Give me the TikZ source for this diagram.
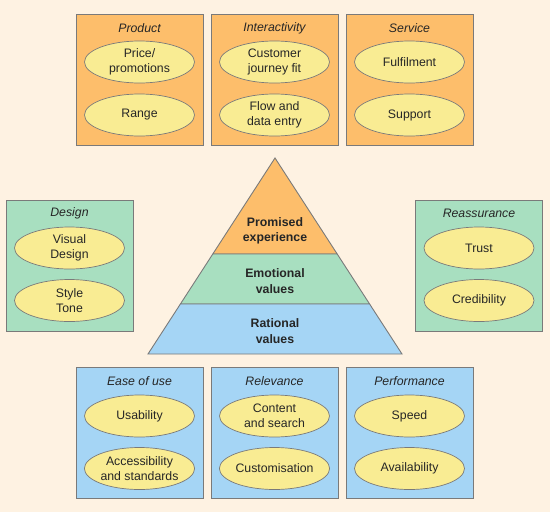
\documentclass[tikz,border=0pt]{standalone}
\usepackage{fontspec}
\setmainfont{Liberation Sans}
\usetikzlibrary{shapes.geometric}

% 颜色
\definecolor{bgcream}{HTML}{FEF2E2}
\definecolor{boxorange}{HTML}{FDBE6B}
\definecolor{boxgreen}{HTML}{A8DFC0}
\definecolor{boxblue}{HTML}{A5D5F5}
\definecolor{ovalyellow}{HTML}{F9EC93}
\definecolor{edgegrey}{HTML}{7A7A7A}

\tikzset{
  groupbox/.style={draw=edgegrey, line width=0.9pt, minimum width=127pt, minimum height=131pt, inner sep=0pt},
  grouptitle/.style={font=\fontsize{12.3}{15.5}\selectfont\itshape, text=black!85},
  oval/.style={ellipse, draw=edgegrey, fill=ovalyellow, line width=0.7pt, minimum width=110pt, minimum height=42pt, inner sep=0pt, align=center, text=black!85, font=\fontsize{12.3}{15.5}\selectfont},
  layerlabel/.style={font=\fontsize{12.3}{15.5}\selectfont\bfseries, align=center, text=black!85},
}

\begin{document}
\begin{tikzpicture}[x=1pt, y=-1pt]
    % 背景: 550 x 512, 同时固定边界
    \fill[bgcream] (0,0) rectangle (550,512);

    % 上排: Product / Interactivity / Service (顶边 y=14)
    \node[groupbox, fill=boxorange] (product) at (139.5,80) {};
    \node[grouptitle] (productT) at (139.5,28) {Product};
    \node[oval] (price) at (139.5,62) {Price/\\promotions};
    \node[oval] (range) at (139.5,115) {Range};

    \node[groupbox, fill=boxorange] (inter) at (274.5,80) {};
    \node[grouptitle] (interT) at (274.5,28) {Interactivity};
    \node[oval] (journey) at (274.5,62) {Customer\\journey fit};
    \node[oval] (flow) at (274.5,115) {Flow and\\data entry};

    \node[groupbox, fill=boxorange] (service) at (409.5,80) {};
    \node[grouptitle] (serviceT) at (409.5,28) {Service};
    \node[oval] (fulfil) at (409.5,62) {Fulfilment};
    \node[oval] (support) at (409.5,115) {Support};

    % 中排: Design / Reassurance (顶边 y=200)
    \node[groupbox, fill=boxgreen] (design) at (69.5,265.5) {};
    \node[grouptitle] (designT) at (69.5,213.5) {Design};
    \node[oval] (visual) at (69.5,248) {Visual\\Design};
    \node[oval] (style) at (69.5,300.5) {Style\\Tone};

    \node[groupbox, fill=boxgreen] (reass) at (479,265.5) {};
    \node[grouptitle] (reassT) at (479,213.5) {Reassurance};
    \node[oval] (trust) at (479,248) {Trust};
    \node[oval] (cred) at (479,300.5) {Credibility};

    % 金字塔: 顶点 (275,158), 底边 y=354
    \coordinate (apex) at (275,158);
    \coordinate (topL) at (212.8,254);
    \coordinate (topR) at (337.2,254);
    \coordinate (midL) at (180.4,304);
    \coordinate (midR) at (369.6,304);
    \coordinate (baseL) at (148,354);
    \coordinate (baseR) at (402,354);
    \filldraw[fill=boxorange, draw=edgegrey, line width=0.9pt] (apex) -- (topR) -- (topL) -- cycle;
    \filldraw[fill=boxgreen, draw=edgegrey, line width=0.9pt] (topL) -- (topR) -- (midR) -- (midL) -- cycle;
    \filldraw[fill=boxblue, draw=edgegrey, line width=0.9pt] (midL) -- (midR) -- (baseR) -- (baseL) -- cycle;
    \node[layerlabel] (promised) at (275,231) {Promised\\experience};
    \node[layerlabel] (emotional) at (275,281) {Emotional\\values};
    \node[layerlabel] (rational) at (275,331) {Rational\\values};

    % 下排: Ease of use / Relevance / Performance (顶边 y=367)
    \node[groupbox, fill=boxblue] (ease) at (139.5,432.5) {};
    \node[grouptitle] (easeT) at (139.5,381) {Ease of use};
    \node[oval] (usab) at (139.5,416) {Usability};
    \node[oval] (access) at (139.5,468.5) {Accessibility\\and standards};

    \node[groupbox, fill=boxblue] (relev) at (274.5,432.5) {};
    \node[grouptitle] (relevT) at (274.5,381) {Relevance};
    \node[oval] (content) at (274.5,416) {Content\\and search};
    \node[oval] (custom) at (274.5,468.5) {Customisation};

    \node[groupbox, fill=boxblue] (perf) at (409.5,432.5) {};
    \node[grouptitle] (perfT) at (409.5,381) {Performance};
    \node[oval] (speed) at (409.5,416) {Speed};
    \node[oval] (avail) at (409.5,468.5) {Availability};
\end{tikzpicture}
\end{document}
